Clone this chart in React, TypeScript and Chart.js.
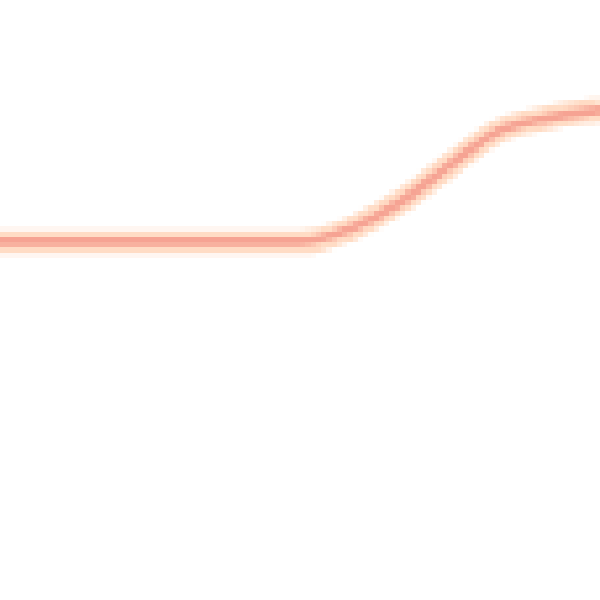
import { useRef, useEffect } from "react";
import { Chart, registerables } from "chart.js";

Chart.register(...registerables);

const steps: string[] = ["0", "1", "2", "3", "4", "5", "6", "7", "8", "9", "10", "11", "12"];
const values: number[] = [59.7, 59.7, 59.7, 59.7, 59.7, 59.7, 59.7, 61.8, 66.3, 72.5, 78.3, 80.4, 81.7];

export default function App() {
  const canvasRef = useRef<HTMLCanvasElement>(null);

  useEffect(() => {
    let chart: Chart | undefined;
    if (canvasRef.current) {
      chart = new Chart(canvasRef.current, {
        type: "line",
        data: {
          labels: steps,
          datasets: [
            {
              data: values,
              borderColor: "#f6a393",
              borderWidth: 9,
              pointRadius: 0,
              cubicInterpolationMode: "monotone",
            },
            {
              data: values,
              borderColor: "#ffdcc5",
              borderWidth: 24,
              pointRadius: 0,
              cubicInterpolationMode: "monotone",
            },
          ],
        },
        options: {
          animation: false,
          responsive: false,
          devicePixelRatio: 0.19,
          layout: { padding: 0 },
          plugins: { legend: { display: false }, tooltip: { enabled: false } },
          scales: {
            x: { display: false, offset: false },
            y: { display: false, min: 0, max: 100 },
          },
        },
      });
    }
    return () => {
      if (chart) chart.destroy();
    };
  }, []);

  return (
    <div style={{ position: "fixed", top: 0, left: 0, width: 600, height: 600, background: "#fff" }}>
      <canvas
        ref={canvasRef}
        width={600}
        height={600}
        style={{ width: 600, height: 600, imageRendering: "pixelated" }}
      ></canvas>
    </div>
  );
}
